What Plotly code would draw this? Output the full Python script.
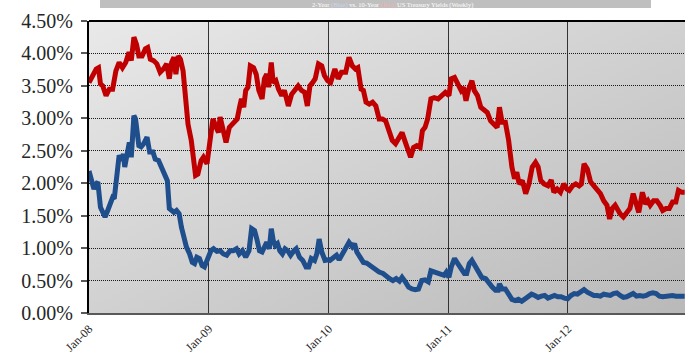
import base64
import plotly.graph_objects as go

# ---------------- data ----------------
dates_10y = [
    "2008-01-01", "2008-01-13", "2008-01-23", "2008-01-30", "2008-02-05", "2008-02-12", "2008-02-22",
    "2008-03-03", "2008-03-13", "2008-03-23", "2008-04-02", "2008-04-12", "2008-04-22", "2008-05-02",
    "2008-05-09", "2008-05-17", "2008-05-25", "2008-06-01", "2008-06-11", "2008-06-21", "2008-06-28",
    "2008-07-06", "2008-07-16", "2008-07-26", "2008-08-05", "2008-08-15", "2008-08-25", "2008-09-02",
    "2008-09-09", "2008-09-16", "2008-09-22", "2008-09-29", "2008-10-06", "2008-10-14", "2008-10-22",
    "2008-10-29", "2008-11-08", "2008-11-15", "2008-11-21", "2008-11-28", "2008-12-08", "2008-12-15",
    "2008-12-21", "2008-12-26",
    "2009-01-03", "2009-01-13", "2009-01-23", "2009-01-30", "2009-02-04", "2009-02-12", "2009-02-22",
    "2009-03-04", "2009-03-16", "2009-03-28", "2009-04-05", "2009-04-10", "2009-04-17", "2009-04-23",
    "2009-04-30", "2009-05-07", "2009-05-17", "2009-05-25", "2009-06-02", "2009-06-12", "2009-06-19",
    "2009-06-26", "2009-07-02", "2009-07-10", "2009-07-16", "2009-07-24", "2009-08-01", "2009-08-11",
    "2009-08-19", "2009-08-31", "2009-09-10", "2009-09-20", "2009-09-30", "2009-10-10", "2009-10-20",
    "2009-10-28", "2009-11-05", "2009-11-13", "2009-11-21", "2009-12-01", "2009-12-11", "2009-12-19",
    "2009-12-29",
    "2010-01-07", "2010-01-20", "2010-01-30", "2010-02-09", "2010-02-22", "2010-03-04", "2010-03-14",
    "2010-03-24", "2010-03-31", "2010-04-10", "2010-04-17", "2010-04-25", "2010-05-05", "2010-05-15",
    "2010-05-25", "2010-06-04", "2010-06-14", "2010-06-24", "2010-07-04", "2010-07-14", "2010-07-24",
    "2010-08-03", "2010-08-13", "2010-08-23", "2010-08-31", "2010-09-08", "2010-09-17", "2010-09-27",
    "2010-10-07", "2010-10-14", "2010-10-22", "2010-10-30", "2010-11-09", "2010-11-19", "2010-12-01",
    "2010-12-13", "2010-12-23",
    "2011-01-03", "2011-01-10", "2011-01-20", "2011-01-30", "2011-02-09", "2011-02-16", "2011-02-24",
    "2011-03-04", "2011-03-14", "2011-03-21", "2011-03-31", "2011-04-10", "2011-04-20", "2011-04-30",
    "2011-05-10", "2011-05-20", "2011-05-30", "2011-06-06", "2011-06-14", "2011-06-24", "2011-07-04",
    "2011-07-14", "2011-07-22", "2011-07-29", "2011-08-05", "2011-08-15", "2011-08-25", "2011-09-04",
    "2011-09-14", "2011-09-24", "2011-10-02", "2011-10-10", "2011-10-20", "2011-11-01", "2011-11-11",
    "2011-11-19", "2011-11-29", "2011-12-09", "2011-12-19", "2011-12-29",
    "2012-01-05", "2012-01-15", "2012-01-25", "2012-02-04", "2012-02-11", "2012-02-19", "2012-02-29",
    "2012-03-10", "2012-03-20", "2012-03-30", "2012-04-09", "2012-04-19", "2012-04-29", "2012-05-07",
    "2012-05-15", "2012-05-24", "2012-05-31", "2012-06-08", "2012-06-18", "2012-06-28", "2012-07-08",
    "2012-07-18", "2012-07-26", "2012-08-04", "2012-08-15", "2012-08-25", "2012-09-01", "2012-09-08",
    "2012-09-18", "2012-09-28", "2012-10-08", "2012-10-16", "2012-10-26", "2012-11-05", "2012-11-15",
    "2012-11-25", "2012-12-03", "2012-12-13", "2012-12-22",
]
yield_10y = [
    3.55, 3.66, 3.76, 3.78, 3.53, 3.50, 3.35,
    3.45, 3.45, 3.73, 3.86, 3.78, 3.86, 4.02,
    3.89, 4.25, 4.14, 3.96, 3.96, 4.07, 4.09,
    3.91, 3.89, 3.84, 3.71, 3.76, 3.84, 3.61,
    3.86, 3.94, 3.68, 3.96, 3.91, 3.73, 3.27,
    2.91, 2.66, 2.35, 2.12, 2.14, 2.35, 2.40,
    2.32, 2.30,
    2.61, 2.99, 2.86, 2.78, 3.02, 2.86, 2.63,
    2.86, 2.94, 2.99, 3.19, 3.30, 3.17, 3.43,
    3.48, 3.81, 3.78, 3.68, 3.43, 3.30, 3.61,
    3.68, 3.48, 3.86, 3.55, 3.58, 3.45, 3.35,
    3.43, 3.19, 3.37, 3.43, 3.50, 3.43, 3.40,
    3.19, 3.50, 3.55, 3.61, 3.84, 3.81, 3.66,
    3.58,
    3.55, 3.76, 3.61, 3.71, 3.71, 3.94, 3.81,
    3.76, 3.78, 3.45, 3.43, 3.25, 3.22, 3.25,
    3.19, 2.99, 2.99, 2.96, 2.81, 2.66, 2.61,
    2.68, 2.78, 2.63, 2.53, 2.40, 2.55, 2.58,
    2.55, 2.81, 2.86, 2.99, 3.30, 3.32, 3.30,
    3.35, 3.40,
    3.35, 3.61, 3.63, 3.53, 3.43, 3.48, 3.27,
    3.45, 3.58, 3.43, 3.35, 3.17, 3.14, 3.09,
    2.96, 2.91, 2.86, 3.17, 2.94, 2.94, 2.66,
    2.25, 2.07, 2.17, 1.99, 2.04, 1.84, 1.99,
    2.25, 2.32, 2.25, 2.04, 1.99, 1.96, 2.05,
    1.86, 1.91, 1.86, 1.99, 1.91,
    1.89, 1.96, 1.99, 1.96, 1.99, 2.30, 2.22,
    2.02, 1.96, 1.91, 1.84, 1.73, 1.66, 1.45,
    1.61, 1.66, 1.58, 1.53, 1.48, 1.55, 1.61,
    1.84, 1.71, 1.55, 1.86, 1.68, 1.73, 1.66,
    1.73, 1.73, 1.66, 1.58, 1.61, 1.61, 1.71,
    1.71, 1.89, 1.86, 1.86,
]

dates_2y = [
    "2008-01-01", "2008-01-08", "2008-01-16", "2008-01-23", "2008-01-28", "2008-02-05", "2008-02-12",
    "2008-02-19", "2008-02-27", "2008-03-06", "2008-03-13", "2008-03-18", "2008-03-26", "2008-04-02",
    "2008-04-09", "2008-04-15", "2008-04-19", "2008-04-27", "2008-05-03", "2008-05-09", "2008-05-17",
    "2008-05-22", "2008-05-27", "2008-06-01", "2008-06-08", "2008-06-16", "2008-06-26", "2008-07-04",
    "2008-07-14", "2008-07-21", "2008-07-31", "2008-08-10", "2008-08-20", "2008-08-27", "2008-09-02",
    "2008-09-09", "2008-09-16", "2008-09-24", "2008-10-02", "2008-10-09", "2008-10-16", "2008-10-24",
    "2008-11-03", "2008-11-11", "2008-11-18", "2008-11-25", "2008-12-03", "2008-12-11", "2008-12-18",
    "2008-12-25",
    "2009-01-07", "2009-01-15", "2009-01-25", "2009-02-04", "2009-02-14", "2009-02-24", "2009-03-06",
    "2009-03-16", "2009-03-26", "2009-04-03", "2009-04-13", "2009-04-23", "2009-05-03", "2009-05-11",
    "2009-05-20", "2009-05-27", "2009-06-04", "2009-06-12", "2009-06-19", "2009-06-26", "2009-07-04",
    "2009-07-10", "2009-07-16", "2009-07-22", "2009-07-29", "2009-08-05", "2009-08-13", "2009-08-21",
    "2009-08-29", "2009-09-07", "2009-09-17", "2009-09-24", "2009-10-04", "2009-10-14", "2009-10-24",
    "2009-11-01", "2009-11-09", "2009-11-19", "2009-11-26", "2009-12-03", "2009-12-11", "2009-12-21",
    "2009-12-31",
    "2010-01-05", "2010-01-17", "2010-01-25", "2010-02-02", "2010-02-12", "2010-02-22", "2010-03-04",
    "2010-03-14", "2010-03-21", "2010-03-28", "2010-04-07", "2010-04-17", "2010-04-27", "2010-05-07",
    "2010-05-17", "2010-05-25", "2010-06-04", "2010-06-16", "2010-06-26", "2010-07-06", "2010-07-16",
    "2010-07-26", "2010-08-05", "2010-08-13", "2010-08-23", "2010-09-02", "2010-09-12", "2010-09-22",
    "2010-10-02", "2010-10-12", "2010-10-22", "2010-11-01", "2010-11-09", "2010-11-19", "2010-11-29",
    "2010-12-09", "2010-12-19", "2010-12-26",
    "2011-01-03", "2011-01-10", "2011-01-20", "2011-01-30", "2011-02-09", "2011-02-19", "2011-02-26",
    "2011-03-06", "2011-03-14", "2011-03-24", "2011-04-03", "2011-04-13", "2011-04-25", "2011-05-05",
    "2011-05-15", "2011-05-25", "2011-06-02", "2011-06-06", "2011-06-14", "2011-06-24", "2011-07-04",
    "2011-07-14", "2011-07-24", "2011-08-03", "2011-08-13", "2011-08-23", "2011-09-02", "2011-09-12",
    "2011-09-22", "2011-10-02", "2011-10-12", "2011-10-22", "2011-11-01", "2011-11-11", "2011-11-21",
    "2011-12-01", "2011-12-11", "2011-12-21", "2011-12-31",
    "2012-01-10", "2012-01-20", "2012-01-30", "2012-02-09", "2012-02-19", "2012-02-29", "2012-03-10",
    "2012-03-20", "2012-03-30", "2012-04-09", "2012-04-19", "2012-04-29", "2012-05-09", "2012-05-19",
    "2012-05-29", "2012-06-08", "2012-06-18", "2012-06-28", "2012-07-08", "2012-07-18", "2012-07-28",
    "2012-08-07", "2012-08-17", "2012-08-27", "2012-09-06", "2012-09-16", "2012-09-26", "2012-10-06",
    "2012-10-16", "2012-10-26", "2012-11-05", "2012-11-15", "2012-11-25", "2012-12-05", "2012-12-15",
    "2012-12-22",
]
yield_2y = [
    2.19, 2.04, 1.91, 1.99, 2.02, 1.63, 1.53,
    1.48, 1.58, 1.71, 1.78, 1.76, 2.14, 2.43,
    2.35, 2.45, 2.25, 2.43, 2.63, 2.40, 3.04,
    2.99, 2.81, 2.58, 2.56, 2.61, 2.71, 2.48,
    2.48, 2.37, 2.35, 2.25, 2.14, 2.04, 1.61,
    1.58, 1.55, 1.58, 1.53, 1.32, 1.17, 1.02,
    0.91, 0.78, 0.76, 0.86, 0.84, 0.73, 0.71,
    0.81,
    0.96, 0.99, 0.95, 0.96, 0.91, 0.89, 0.96,
    0.96, 0.99, 0.91, 0.96, 0.86, 0.96, 1.30,
    1.27, 1.14, 0.96, 0.94, 1.02, 1.09, 0.99,
    1.30, 1.12, 1.04, 1.07, 0.96, 0.91, 0.99,
    0.96, 0.89, 0.96, 0.99, 0.86, 0.81, 0.71,
    0.71, 0.84, 0.81, 0.91, 1.14, 0.94, 0.81,
    0.82,
    0.81, 0.86, 0.89, 0.82, 0.91, 1.02, 1.09,
    1.02, 1.07, 0.94, 0.86, 0.78, 0.77, 0.73,
    0.71, 0.68, 0.63, 0.61, 0.56, 0.53, 0.50,
    0.53, 0.49, 0.55, 0.48, 0.40, 0.37, 0.36,
    0.37, 0.50, 0.51, 0.48, 0.65, 0.63, 0.61,
    0.58, 0.58, 0.63,
    0.55, 0.71, 0.84, 0.76, 0.68, 0.61, 0.61,
    0.76, 0.81, 0.71, 0.63, 0.55, 0.53, 0.45,
    0.40, 0.35, 0.35, 0.45, 0.37, 0.37, 0.30,
    0.21, 0.19, 0.21, 0.18, 0.22, 0.26, 0.29,
    0.27, 0.24, 0.26, 0.27, 0.23, 0.25, 0.27,
    0.25, 0.25, 0.23, 0.22,
    0.27, 0.30, 0.29, 0.32, 0.36, 0.32, 0.29,
    0.27, 0.27, 0.26, 0.29, 0.27, 0.27, 0.30,
    0.31, 0.27, 0.24, 0.25, 0.27, 0.30, 0.26,
    0.27, 0.26, 0.27, 0.30, 0.31, 0.30, 0.26,
    0.25, 0.26, 0.27, 0.27, 0.26, 0.26, 0.26,
    0.26,
]

year_ticks = ["2008-01-01", "2009-01-01", "2010-01-01", "2011-01-01", "2012-01-01"]
year_labels = ["Jan-08", "Jan-09", "Jan-10", "Jan-11", "Jan-12"]
y_ticks = [0, 0.5, 1.0, 1.5, 2.0, 2.5, 3.0, 3.5, 4.0, 4.5]
y_labels = ["0.00%", "0.50%", "1.00%", "1.50%", "2.00%", "2.50%", "3.00%", "3.50%", "4.00%", "4.50%"]

title_html = ("2-Year <span style='color:#c9d6f0'>(Blue)</span> vs. 10-Year "
              "<span style='color:#f4b0b0'>(Red)</span> US Treasury Yields (Weekly)")

# ---------------- figure ----------------
W, H = 685, 353
ML, MR, MT, MB = 89, 0, 21, 40
PH = H - MT - MB
PW = W - ML - MR
SERIF = "Liberation Serif, Times New Roman, DejaVu Serif, serif"

svg = ('<svg xmlns="http://www.w3.org/2000/svg" width="600" height="300" preserveAspectRatio="none">'
       '<defs><linearGradient id="g" x1="0" y1="0" x2="1" y2="1">'
       '<stop offset="0" stop-color="#e9e9e9"/><stop offset="1" stop-color="#b9b9b9"/>'
       '</linearGradient></defs><rect width="600" height="300" fill="url(#g)"/></svg>')
bg_src = "data:image/svg+xml;base64," + base64.b64encode(svg.encode()).decode()

fig = go.Figure()
fig.add_trace(go.Scatter(x=dates_10y, y=yield_10y, mode="lines",
                         line=dict(color="#c00000", width=5), name="10Y"))
fig.add_trace(go.Scatter(x=dates_2y, y=yield_2y, mode="lines",
                         line=dict(color="#1f4e8c", width=5), name="2Y"))

fig.update_layout(
    width=W, height=H,
    margin=dict(l=ML, r=MR, t=MT, b=MB, pad=0, autoexpand=False),
    paper_bgcolor="white",
    plot_bgcolor="rgba(0,0,0,0)",
    showlegend=False,
    images=[dict(source=bg_src, xref="paper", yref="paper", x=0, y=1, sizex=1, sizey=1,
                 xanchor="left", yanchor="top", sizing="stretch", layer="below")],
    xaxis=dict(
        type="date", range=["2008-01-01", "2012-12-23"], automargin=False,
        tickmode="array", tickvals=year_ticks, ticktext=year_labels, tickangle=-45,
        tickfont=dict(family=SERIF, size=12, color="#262626"),
        ticklabelstandoff=2,
        showgrid=True, gridcolor="#333333", gridwidth=1,
        showline=True, linecolor="#595959", linewidth=2,
        ticks="", zeroline=False,
    ),
    yaxis=dict(
        range=[0, 4.5], automargin=False,
        tickmode="array", tickvals=y_ticks, ticktext=y_labels,
        tickfont=dict(family=SERIF, size=20, color="#262626"),
        ticklabelstandoff=4,
        showgrid=True, gridcolor="#1a1a1a", gridwidth=1, griddash="1px,1px",
        showline=True, linecolor="black", linewidth=2,
        ticks="outside", ticklen=6, tickcolor="#595959", tickwidth=1.5,
        zeroline=False,
    ),
    shapes=[
        dict(type="line", xref="paper", yref="paper", x0=0, x1=1, y0=1, y1=1,
             line=dict(color="black", width=2)),
        dict(type="rect", xref="paper", yref="paper",
             x0=(100 - ML) / PW, x1=(651 - ML) / PW,
             y0=1 + (MT - 8) / PH, y1=1 + (MT + 10) / PH,
             fillcolor="#bfbfbf", line=dict(width=0)),
    ],
    annotations=[
        dict(text=title_html, xref="paper", yref="paper",
             x=(392 - ML) / PW, y=1 + (MT - 4.5) / PH, xanchor="center", yanchor="middle",
             showarrow=False,
             font=dict(family=SERIF, size=6.5, color="white")),
    ],
)

fig.write_html("out.html")
